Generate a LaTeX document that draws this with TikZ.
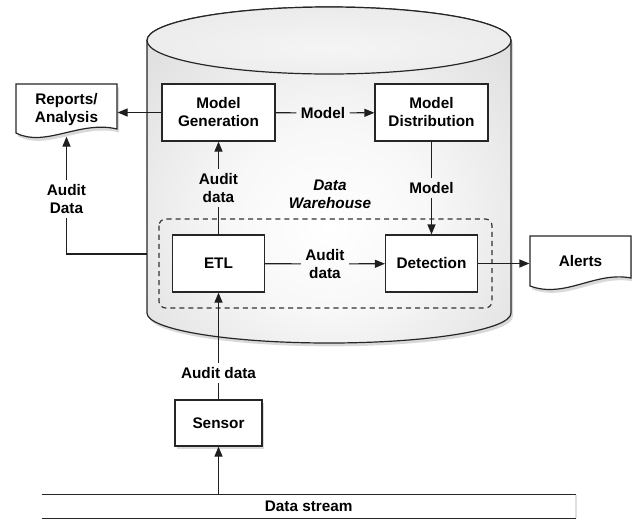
\documentclass[tikz,border=0pt]{standalone}
\usepackage{fontspec}
\setmainfont{Liberation Sans}
\usetikzlibrary{arrows.meta,shadows}
\pgfdeclareradialshading{cylshade}{\pgfpoint{0bp}{-8bp}}{color(0bp)=(white); color(14bp)=(white!97!black); color(50bp)=(black!20); color(75bp)=(black!30)}
\pgfdeclareradialshading{topshade}{\pgfpoint{0bp}{-6bp}}{color(0bp)=(white!96!black); color(30bp)=(black!8); color(50bp)=(black!17); color(75bp)=(black!22)}
\begin{document}
\begin{tikzpicture}[x=0.75pt,y=-0.75pt,line width=0.9pt,
  txt/.style={font=\bfseries\fontsize{11.5}{13.5}\selectfont, align=center, text=black},
  box/.style={txt, draw=black!85, fill=white, inner sep=2pt},
  bigbox/.style={box, minimum width=84.75pt, minimum height=42.75pt},
  smallbox/.style={box, minimum width=69pt, minimum height=42.75pt},
  lbl/.style={txt, inner sep=3pt},
  arr/.style={-{Triangle[length=7.5pt,width=6pt]}},
  conn/.style={draw=black!88},
  shadowed/.style={drop shadow={opacity=0.3,shadow xshift=1.5pt,shadow yshift=-2.5pt}},
  ]
\useasboundingbox (0,0) rectangle (632,519);

% cylinder body
\path[shadowed, shade, shading=cylshade, draw=black!85]
  (147,40.5) -- (147,313)
  .. controls (147,329.6) and (228.5,343) .. (329,343)
  .. controls (429.5,343) and (511,329.6) .. (511,313)
  -- (511,40.5)
  .. controls (511,22) and (429.5,7) .. (329,7)
  .. controls (228.5,7) and (147,22) .. (147,40.5) -- cycle;
% cylinder top
\path[shade, shading=topshade, draw=black!85] (329,40.5) ellipse [x radius=182, y radius=33.5];

% dashed group
\draw[black!80, dash pattern=on 3.8pt off 3pt, rounded corners=5pt] (159,219) rectangle (492,308);

% reports document shape
\path[shadowed, fill=white, draw=black!85]
  (16,84) -- (117,84) -- (117,129)
  .. controls (80,120) and (45,148) .. (16,133) -- cycle;
\node[lbl] (rep) at (66.5,110) [minimum width=75.75pt, minimum height=39pt] {Reports/\\Analysis};

% alerts document shape
\path[shadowed, fill=white, draw=black!85]
  (530,236) -- (631,236) -- (631,278)
  .. controls (595,271) and (565,299) .. (530,286) -- cycle;
\node[lbl] (al) at (580.5,261) [minimum width=75.75pt, minimum height=39pt] {Alerts};

% boxes
\node[bigbox] (mg) at (218.5,112.5) {Model\\Generation};
\node[bigbox] (md) at (431.5,112.5) {Model\\Distribution};
\node[smallbox] (etl) at (218.5,263.5) {ETL};
\node[smallbox] (det) at (431.5,263.5) {Detection};
\node[box, shadowed, minimum width=65.25pt, minimum height=34.5pt] (sen) at (218.5,423) {Sensor};

% data stream band (only top and bottom rules)
\path[drop shadow={opacity=0.25,shadow xshift=1.5pt,shadow yshift=0pt}, fill=white] (42.5,495) rectangle (575,518);
\node[txt, inner sep=0pt, minimum width=399.4pt, minimum height=17.25pt] (ds) at (308.75,506.5) {Data stream};
\draw[black!85] (ds.north west) -- (ds.north east);
\draw[black!85] (ds.south west) -- (ds.south east);

% labels
\node[lbl] (lm1) at (323,113) {Model};
\node[lbl] (la1) at (218.5,188) {Audit\\data};
\node[lbl, font=\bfseries\itshape\fontsize{11.5}{13.5}\selectfont] (dw) at (330,194) {Data\\Warehouse};
\node[lbl] (lm2) at (431.5,188) {Model};
\node[lbl] (la3) at (66.5,199) {Audit\\Data};
\node[lbl] (la2) at (325,264) {Audit\\data};
\node[lbl] (la4) at (218.5,373) {Audit data};
\coordinate (cl) at (147,254);

% connectors
\draw[conn] (mg) -- (lm1);
\draw[conn,arr] (lm1) -- (md);
\draw[conn,arr] (mg.west) -- (mg.west -| rep.east);
\draw[conn] (etl) -- (la1);
\draw[conn,arr] (la1) -- (mg);
\draw[conn] (md) -- (lm2);
\draw[conn,arr] (lm2) -- (det);
\draw[conn] (etl) -- (la2);
\draw[conn,arr] (la2) -- (det);
\draw[conn,arr] (det.east) -- (det.east -| al.west);
\draw[conn] (cl) -| (la3);
\draw[conn,arr] (la3) -- (la3 |- rep.south);
\draw[conn] (sen) -- (la4);
\draw[conn,arr] (la4) -- (etl);
\draw[conn,arr] (ds.north -| sen) -- (sen);
\end{tikzpicture}
\end{document}
